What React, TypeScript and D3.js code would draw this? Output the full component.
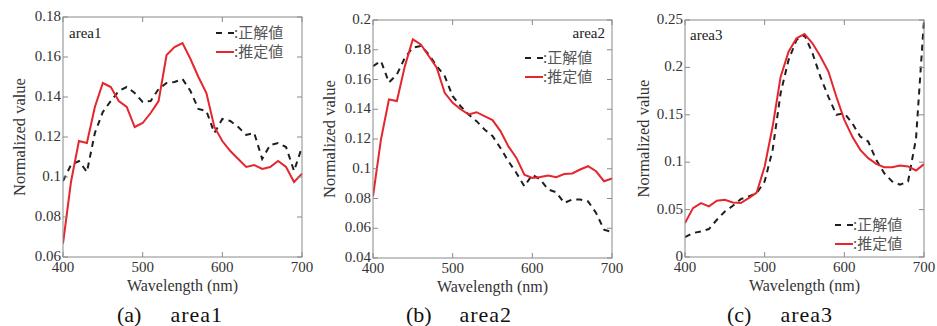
import React from "react";
import * as d3 from "d3";

const wavelengths = d3.range(400, 701, 10);

const area1True = [0.098, 0.106, 0.108, 0.1025, 0.122, 0.1325, 0.138, 0.143, 0.145, 0.142, 0.1375, 0.138, 0.144, 0.147, 0.1475, 0.149, 0.143, 0.134, 0.133, 0.122, 0.129, 0.128, 0.125, 0.121, 0.122, 0.109, 0.116, 0.117, 0.115, 0.103, 0.115];
const area1Est = [0.0667, 0.0975, 0.118, 0.117, 0.135, 0.147, 0.145, 0.138, 0.135, 0.125, 0.127, 0.132, 0.138, 0.161, 0.165, 0.167, 0.159, 0.15, 0.142, 0.125, 0.118, 0.113, 0.109, 0.105, 0.106, 0.104, 0.105, 0.108, 0.105, 0.0975, 0.1017];

const area2True = [0.169, 0.1724, 0.158, 0.1634, 0.1746, 0.1814, 0.1825, 0.177, 0.169, 0.1623, 0.1488, 0.142, 0.1365, 0.132, 0.1264, 0.122, 0.114, 0.105, 0.0972, 0.0882, 0.096, 0.0927, 0.086, 0.0842, 0.077, 0.0793, 0.0793, 0.078, 0.0703, 0.059, 0.0575];
const area2Est = [0.0815, 0.1197, 0.1466, 0.1455, 0.169, 0.187, 0.1836, 0.1758, 0.168, 0.151, 0.1443, 0.14, 0.1365, 0.138, 0.1354, 0.1327, 0.1253, 0.115, 0.1073, 0.096, 0.0938, 0.0945, 0.0954, 0.0943, 0.0965, 0.0968, 0.0995, 0.1017, 0.0983, 0.0916, 0.0934];

const area3True = [0.021, 0.0253, 0.027, 0.0295, 0.0393, 0.048, 0.054, 0.061, 0.064, 0.0674, 0.0797, 0.113, 0.1727, 0.2079, 0.229, 0.234, 0.215, 0.19, 0.169, 0.15, 0.1517, 0.141, 0.127, 0.1218, 0.1025, 0.0885, 0.0797, 0.0762, 0.0797, 0.125, 0.25];
const area3Est = [0.0358, 0.0516, 0.0569, 0.0534, 0.0593, 0.0604, 0.0576, 0.0569, 0.0621, 0.068, 0.0955, 0.1376, 0.19, 0.2166, 0.2307, 0.2353, 0.2254, 0.2114, 0.1956, 0.169, 0.1447, 0.127, 0.113, 0.1043, 0.0983, 0.0948, 0.0948, 0.0966, 0.0955, 0.0913, 0.098];

const xTicks = [400, 500, 600, 700];
const yTicks1 = [0.06, 0.08, 0.1, 0.12, 0.14, 0.16, 0.18];
const yTicks2 = [0.04, 0.06, 0.08, 0.1, 0.12, 0.14, 0.16, 0.18, 0.2];
const yTicks3 = [0, 0.05, 0.1, 0.15, 0.2, 0.25];

const legendTrue = ":正解値";
const legendEst = ":推定値";

type PanelDef = {
  left: number; right: number; top: number; bottom: number;
  yDomain: [number, number]; yTicks: number[];
  trueVals: number[]; estVals: number[];
  name: string; letter: string;
  nameX: number; nameY: number; nameAnchor: string;
  legX: number; legY: number;
  titleX: number; capX: number;
};

const panels: PanelDef[] = [
  { left: 63, right: 302, top: 17, bottom: 257, yDomain: [0.06, 0.18], yTicks: yTicks1, trueVals: area1True, estVals: area1Est, name: "area1", letter: "(a)", nameX: 69, nameY: 38, nameAnchor: "start", legX: 216, legY: 33, titleX: 25, capX: 170 },
  { left: 373, right: 612, top: 20, bottom: 258, yDomain: [0.04, 0.2], yTicks: yTicks2, trueVals: area2True, estVals: area2Est, name: "area2", letter: "(b)", nameX: 605, nameY: 38, nameAnchor: "end", legX: 525, legY: 58, titleX: 335, capX: 459 },
  { left: 685, right: 924, top: 20, bottom: 257, yDomain: [0, 0.25], yTicks: yTicks3, trueVals: area3True, estVals: area3Est, name: "area3", letter: "(c)", nameX: 690, nameY: 40, nameAnchor: "start", legX: 835, legY: 225, titleX: 649, capX: 780 },
];

const SERIF = "Liberation Serif";
const cjk = "Noto Sans CJK JP";
const RED = "#e5262d";
const BLACK = "#1e1e1e";
const AXIS = "#8a8a8a";
const TEXT = "#333";

function Panel({ p }: { p: PanelDef }) {
  const x = d3.scaleLinear().domain([400, 700]).range([p.left, p.right]);
  const y = d3.scaleLinear().domain(p.yDomain).range([p.bottom, p.top]);
  const line = d3.line<number>().x((_, i) => x(wavelengths[i])).y((d) => y(d));
  const tl = 5;
  const fmt = (v: number) => String(+v.toFixed(2));
  return (
    <g>
      <defs>
        <clipPath id={`clip-${p.name}`}>
          <rect x={p.left} y={p.top - 1} width={p.right - p.left + 1} height={p.bottom - p.top + 2} />
        </clipPath>
      </defs>
      <g clipPath={`url(#clip-${p.name})`}>
        <path d={line(p.trueVals) || ""} fill="none" stroke={BLACK} strokeWidth={2} strokeDasharray="6,5" />
        <path d={line(p.estVals) || ""} fill="none" stroke={RED} strokeWidth={2} />
      </g>
      <rect x={p.left} y={p.top} width={p.right - p.left} height={p.bottom - p.top} fill="none" stroke={AXIS} strokeWidth={1} />
      {xTicks.map((t) => (
        <g key={`x${t}`}>
          <line x1={x(t)} x2={x(t)} y1={p.bottom} y2={p.bottom - tl} stroke={AXIS} />
          <line x1={x(t)} x2={x(t)} y1={p.top} y2={p.top + tl} stroke={AXIS} />
          <text x={x(t)} y={p.bottom + 15} textAnchor="middle" fontFamily={SERIF} fontSize="15px" fill={TEXT}>{t}</text>
        </g>
      ))}
      {p.yTicks.map((t) => (
        <g key={`y${t}`}>
          <line x1={p.left} x2={p.left + tl} y1={y(t)} y2={y(t)} stroke={AXIS} />
          <line x1={p.right} x2={p.right - tl} y1={y(t)} y2={y(t)} stroke={AXIS} />
          <text x={p.left - 2} y={y(t) + 4} textAnchor="end" fontFamily={SERIF} fontSize="15px" fill={TEXT}>{fmt(t)}</text>
        </g>
      ))}
      <text x={(p.left + p.right) / 2} y={p.bottom + 34} textAnchor="middle" fontFamily={SERIF} fontSize="16px" fill={TEXT}>Wavelength (nm)</text>
      <text transform={`translate(${p.titleX},${(p.top + p.bottom) / 2}) rotate(-90)`} textAnchor="middle" fontFamily={SERIF} fontSize="16.5px" fill={TEXT}>Normalized value</text>
      <text x={p.nameX} y={p.nameY} textAnchor={p.nameAnchor} fontFamily={SERIF} fontSize="15px" fill="#222">{p.name}</text>
      <line x1={p.legX} x2={p.legX + 18} y1={p.legY} y2={p.legY} stroke={BLACK} strokeWidth={2} strokeDasharray="6,6" />
      <text x={p.legX + 18} y={p.legY + 5} fontFamily={cjk} fontSize="15px" fill="#555">{legendTrue}</text>
      <line x1={p.legX} x2={p.legX + 18} y1={p.legY + 19} y2={p.legY + 19} stroke={RED} strokeWidth={2} />
      <text x={p.legX + 18} y={p.legY + 24} fontFamily={cjk} fontSize="15px" fill="#555">{legendEst}</text>
      <text x={p.capX - 53} y={322} fontFamily={SERIF} fontSize="22px" fill="#111">{p.letter}</text>
      <text x={p.capX + 53} y={322} textAnchor="end" fontFamily={SERIF} fontSize="22px" fill="#111" letterSpacing={1}>{p.name}</text>
    </g>
  );
}

export default function App() {
  return (
    <svg width={937} height={326} style={{ display: "block", position: "absolute", left: 0, top: 0, background: "#fff" }}>
      <rect width={937} height={326} fill="#fff" />
      {panels.map((p) => <Panel key={p.name} p={p} />)}
    </svg>
  );
}
